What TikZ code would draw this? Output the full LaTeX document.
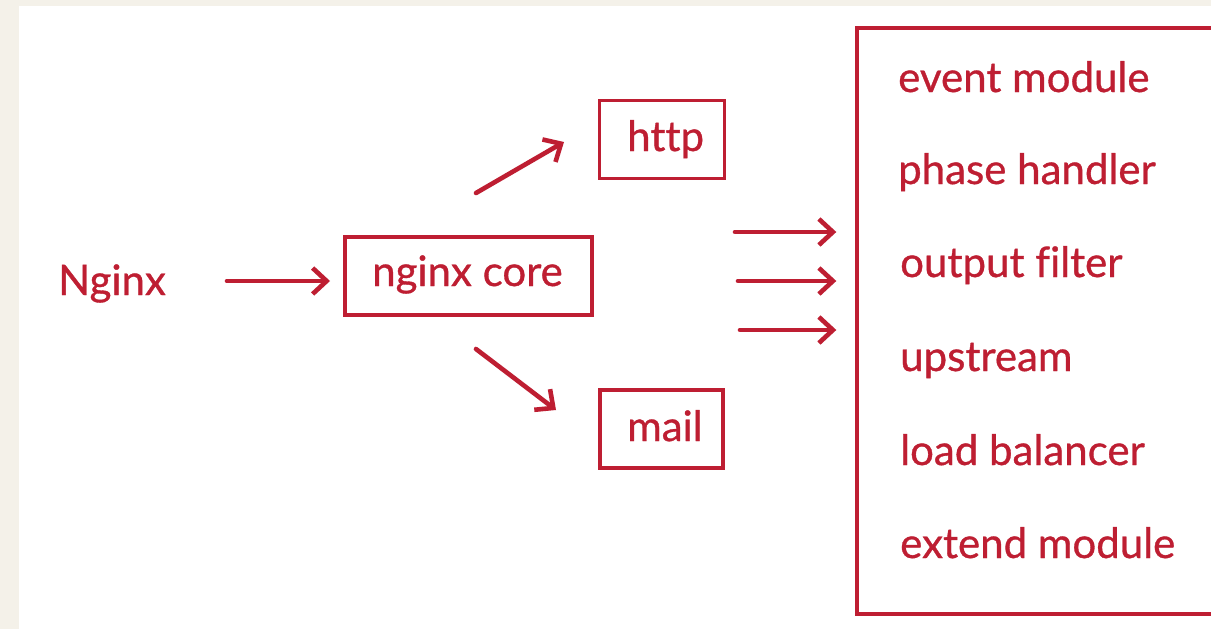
\documentclass[tikz,border=0pt]{standalone}
\usepackage{fontspec}
\setmainfont[Ligatures=NoCommon, FakeBold=0.8]{Lato}
\usetikzlibrary{arrows.meta}
\definecolor{nred}{RGB}{190,30,50}
\definecolor{beige}{RGB}{244,241,233}
\tikzset{
  lbl/.style={text=nred, inner sep=0pt, anchor=base west, font=\fontsize{42}{46}\selectfont},
  boxn/.style={draw=nred, line width=3.4pt, minimum height=78pt, inner sep=0pt},
  arr/.style={draw=nred, line width=4.6pt, line cap=round, -{Straight Barb[length=14pt,width=26pt,line width=4.6pt]}},
}
\begin{document}
\begin{tikzpicture}[x=1pt,y=-1pt]
\useasboundingbox (0,0) rectangle (1211,629);
\clip (0,0) rectangle (1211,629);
\fill[beige] (0,0) rectangle (1211,629);
\fill[white] (19,6) rectangle (1211,629);

\node[boxn, minimum width=247pt] (core) at (468.5,276) {};
\node[boxn, minimum width=125pt] (http) at (662,139.5) {};
\node[boxn, minimum width=123pt] (mail) at (661.5,429) {};
\node[boxn, minimum width=400pt, minimum height=586pt] (modules) at (1057,321) {};

\node[lbl] (nginx) at (58,295) {Nginx};
\node[lbl] (coretext) at (372,286) {nginx core};
\node[lbl] (httptext) at (627,151) {http};
\node[lbl] (mailtext) at (627,441) {mail};

\node[lbl] (m1) at (898,92) {event module};
\node[lbl] (m2) at (898,184) {phase handler};
\node[lbl] (m3) at (900,277) {output filter};
\node[lbl] (m4) at (900,371) {upstream};
\node[lbl] (m5) at (900,465) {load balancer};
\node[lbl] (m6) at (900,558) {extend module};

\coordinate (s0) at (227,281);
\coordinate (e0) at (330,281);
\coordinate (s1) at (476,193);
\coordinate (e1) at (564,142);
\coordinate (s2) at (476,349);
\coordinate (e2) at (556,410);
\coordinate (a1) at (735,232);
\coordinate (a2) at (738,281);
\coordinate (a3) at (740,330);

\draw[arr] (s0) -- (e0);
\draw[arr] (s1) -- (e1);
\draw[arr] (s2) -- (e2);
\draw[arr, shorten >=19pt] (a1) -- (a1 -| modules.west);
\draw[arr, shorten >=19pt] (a2) -- (a2 -| modules.west);
\draw[arr, shorten >=19pt] (a3) -- (a3 -| modules.west);
\end{tikzpicture}
\end{document}
